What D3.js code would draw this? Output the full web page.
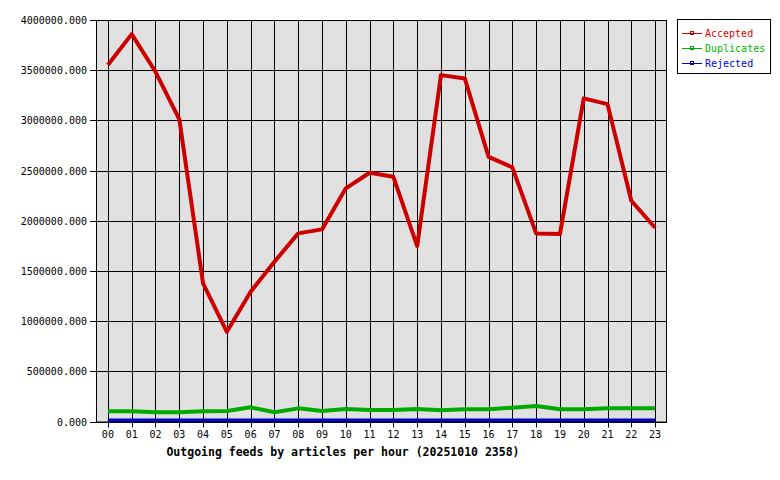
<!DOCTYPE html>
<html>
<head>
<meta charset="utf-8">
<script src="https://cdn.jsdelivr.net/npm/d3@7"></script>
<style>
  body { margin: 0; background: #fff; }
  svg text { font-family: "DejaVu Sans Mono", "Liberation Mono", monospace; }
</style>
</head>
<body>
<div id="chart"></div>
<script>
// hours of the day
var hours = ["00","01","02","03","04","05","06","07","08","09","10","11",
             "12","13","14","15","16","17","18","19","20","21","22","23"];

// articles per hour
var accepted = [3551000, 3859000, 3484000, 3013000, 1376000, 894000, 1293000, 1592000,
                1874000, 1914000, 2323000, 2478000, 2438000, 1748000, 3451000, 3418000,
                2637000, 2532000, 1874000, 1867000, 3219000, 3162000, 2199000, 1930000];
var duplicates = [102000, 102000, 92000, 92000, 102000, 104000, 141000, 92000,
                  131000, 105000, 125000, 115000, 115000, 125000, 112000, 122000,
                  122000, 138000, 154000, 122000, 122000, 131000, 131000, 131000];
var rejected = [10000, 10000, 10000, 10000, 10000, 10000, 10000, 10000,
                10000, 10000, 10000, 10000, 10000, 10000, 10000, 10000,
                10000, 10000, 10000, 10000, 10000, 10000, 10000, 10000];

var yTicks = [0, 500000, 1000000, 1500000, 2000000, 2500000, 3000000, 3500000, 4000000];

var seriesNames = ["Accepted", "Duplicates", "Rejected"];
var lineColors = ["#cc0000", "#00aa00", "#0000c8"];
var textColors = ["#e00000", "#00b800", "#0000e0"];

var W = 780, H = 480;
var mLeft = 96, mRight = 667, mTop = 20, mBottom = 421.5;

var svg = d3.select("#chart").append("svg")
    .attr("width", W)
    .attr("height", H);

var x = d3.scalePoint()
    .domain(hours)
    .range([mLeft, mRight])
    .padding(0.5);

var y = d3.scaleLinear()
    .domain([0, 4000000])
    .range([mBottom, mTop]);

// plot background
svg.append("rect")
    .attr("x", mLeft).attr("y", mTop)
    .attr("width", mRight - mLeft).attr("height", mBottom - mTop)
    .attr("fill", "#e0e0e0");

// grid
svg.append("g").selectAll("line")
    .data(hours).enter().append("line")
    .attr("x1", function(d) { return Math.round(x(d)) + 0.5; })
    .attr("x2", function(d) { return Math.round(x(d)) + 0.5; })
    .attr("y1", mTop).attr("y2", mBottom + 6)
    .attr("stroke", "#000").attr("stroke-width", 1);

svg.append("g").selectAll("line")
    .data(yTicks).enter().append("line")
    .attr("x1", mLeft - 6).attr("x2", mRight)
    .attr("y1", function(d) { return Math.round(y(d)) + 0.5; })
    .attr("y2", function(d) { return Math.round(y(d)) + 0.5; })
    .attr("stroke", "#000").attr("stroke-width", 1);

// y labels
svg.append("g").selectAll("text")
    .data(yTicks).enter().append("text")
    .attr("x", mLeft - 9)
    .attr("y", function(d) { return y(d) + 4; })
    .attr("text-anchor", "end")
    .attr("font-size", 10)
    .text(function(d) { return d3.format(".3f")(d); });

// x labels
svg.append("g").selectAll("text")
    .data(hours).enter().append("text")
    .attr("x", function(d) { return x(d); })
    .attr("y", mBottom + 16)
    .attr("text-anchor", "middle")
    .attr("font-size", 10)
    .text(function(d) { return d; });

// series lines
var line = d3.line()
    .x(function(d, i) { return x(hours[i]); })
    .y(function(d) { return y(d); });

var allSeries = [accepted, duplicates, rejected];
allSeries.forEach(function(vals, k) {
    svg.append("path")
        .datum(vals)
        .attr("d", line)
        .attr("fill", "none")
        .attr("stroke", lineColors[k])
        .attr("stroke-width", 4)
        .attr("stroke-linejoin", "round");
});

// plot border
svg.append("rect")
    .attr("x", mLeft + 0.5).attr("y", mTop + 0.5)
    .attr("width", mRight - mLeft - 1).attr("height", mBottom - mTop)
    .attr("fill", "none")
    .attr("stroke", "#000");

// title
svg.append("text")
    .attr("x", 343)
    .attr("y", 456)
    .attr("text-anchor", "middle")
    .attr("font-size", 11.5)
    .attr("font-weight", "bold")
    .text("Outgoing feeds by articles per hour (20251010 2358)");

// legend
var lg = svg.append("g");
lg.append("rect")
    .attr("x", 677.5).attr("y", 19.5)
    .attr("width", 93).attr("height", 54)
    .attr("fill", "#fff").attr("stroke", "#000");

seriesNames.forEach(function(name, k) {
    var ly = 33 + k * 15;
    lg.append("line")
        .attr("x1", 682).attr("x2", 702)
        .attr("y1", ly + 0.5).attr("y2", ly + 0.5)
        .attr("stroke", lineColors[k]);
    lg.append("rect")
        .attr("x", 690.5).attr("y", ly - 1.5)
        .attr("width", 3).attr("height", 3)
        .attr("fill", "none").attr("stroke", lineColors[k]);
    lg.append("text")
        .attr("x", 705).attr("y", ly + 4)
        .attr("font-size", 10)
        .attr("fill", textColors[k])
        .text(name);
});
</script>
</body>
</html>
